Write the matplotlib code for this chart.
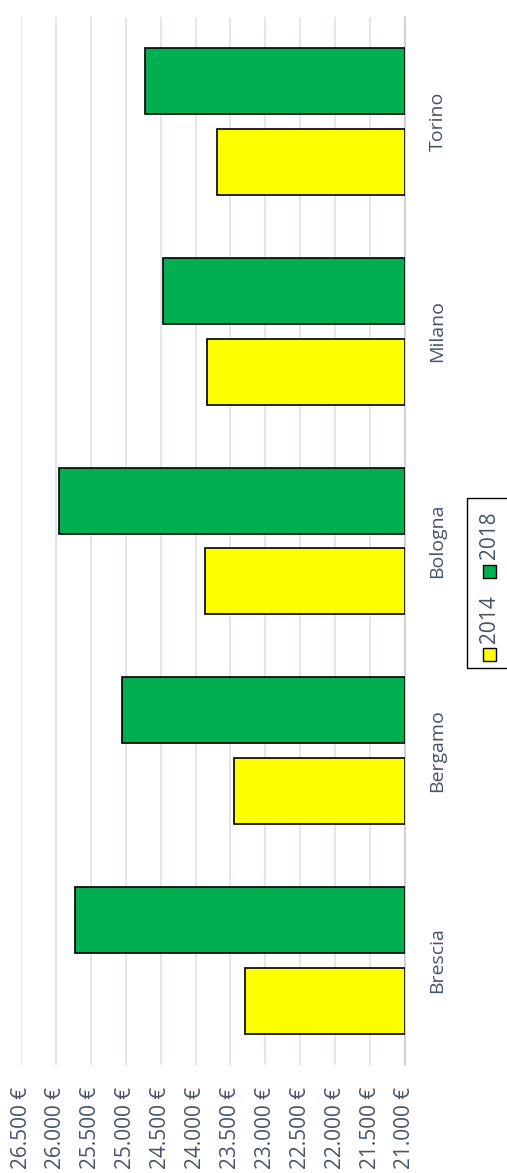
import matplotlib
matplotlib.use("Agg")
import matplotlib.pyplot as plt
from matplotlib.patches import Rectangle
from matplotlib.transforms import blended_transform_factory
import numpy as np

categories = ["Brescia", "Bergamo", "Bologna", "Milano", "Torino"]
values_2014 = [23290, 23450, 23870, 23840, 23690]
values_2018 = [25730, 25050, 25960, 24470, 24720]
series_labels = ["2014", "2018"]
tick_values = [21000, 21500, 22000, 22500, 23000, 23500, 24000, 24500, 25000, 25500, 26000, 26500]

plt.rcParams['font.family'] = ['Open Sans', 'DejaVu Sans']
TEXT = '#44546A'
YELLOW = '#FFFF00'
GREEN = '#00B050'

W, H = 507, 1173
fig = plt.figure(figsize=(W / 100, H / 100), dpi=100)
ax = fig.add_axes([21 / W, 1 - 1065 / H, (405 - 21) / W, (1065 - 17) / H])

y = np.arange(len(categories))
off = 0.193
bh = 0.315
base = 21000
ax.barh(y - off, np.array(values_2014) - base, left=base, height=bh,
        color=YELLOW, edgecolor='black', linewidth=1.2, zorder=3)
ax.barh(y + off, np.array(values_2018) - base, left=base, height=bh,
        color=GREEN, edgecolor='black', linewidth=1.2, zorder=3)

ax.set_xlim(26500, 21000)
ax.set_ylim(-0.5, len(categories) - 0.5)
ax.set_xticks(tick_values)
ax.set_xticklabels([f"{v:,}".replace(",", ".") + " €" for v in tick_values],
                   rotation=90, color=TEXT, fontsize=15)
ax.tick_params(axis='x', length=0, pad=16)
ax.grid(axis='x', color='#DDE2EA', linewidth=1.2, zorder=0)

ax.yaxis.tick_right()
ax.set_yticks(y)
ax.set_yticklabels(categories, rotation=90, va='center', color=TEXT, fontsize=14)
ax.tick_params(axis='y', length=0, pad=17)

for s in ['top', 'bottom', 'left']:
    ax.spines[s].set_visible(False)
ax.spines['right'].set_color('#C8CCD2')
ax.spines['right'].set_linewidth(1.2)

# legend (rotated, drawn manually)
def fx(x):
    return x / W

def fy(yy):
    return 1 - yy / H

fig.patches.append(Rectangle((fx(467), fy(668)), fx(560) - fx(467), fy(498) - fy(668),
                             transform=fig.transFigure, facecolor='white',
                             edgecolor='black', linewidth=1.0, zorder=5))
fig.patches.append(Rectangle((fx(483), fy(661)), fx(496) - fx(483), fy(648) - fy(661),
                             transform=fig.transFigure, facecolor=YELLOW,
                             edgecolor='black', linewidth=1.0, zorder=6))
fig.patches.append(Rectangle((fx(483), fy(578)), fx(496) - fx(483), fy(565) - fy(578),
                             transform=fig.transFigure, facecolor=GREEN,
                             edgecolor='black', linewidth=1.0, zorder=6))
fig.text(fx(489), fy(619), series_labels[0], rotation=90, ha='center', va='center',
         color=TEXT, fontsize=15, zorder=7)
fig.text(fx(489), fy(535), series_labels[1], rotation=90, ha='center', va='center',
         color=TEXT, fontsize=15, zorder=7)

fig.savefig("out.png", dpi=100)
